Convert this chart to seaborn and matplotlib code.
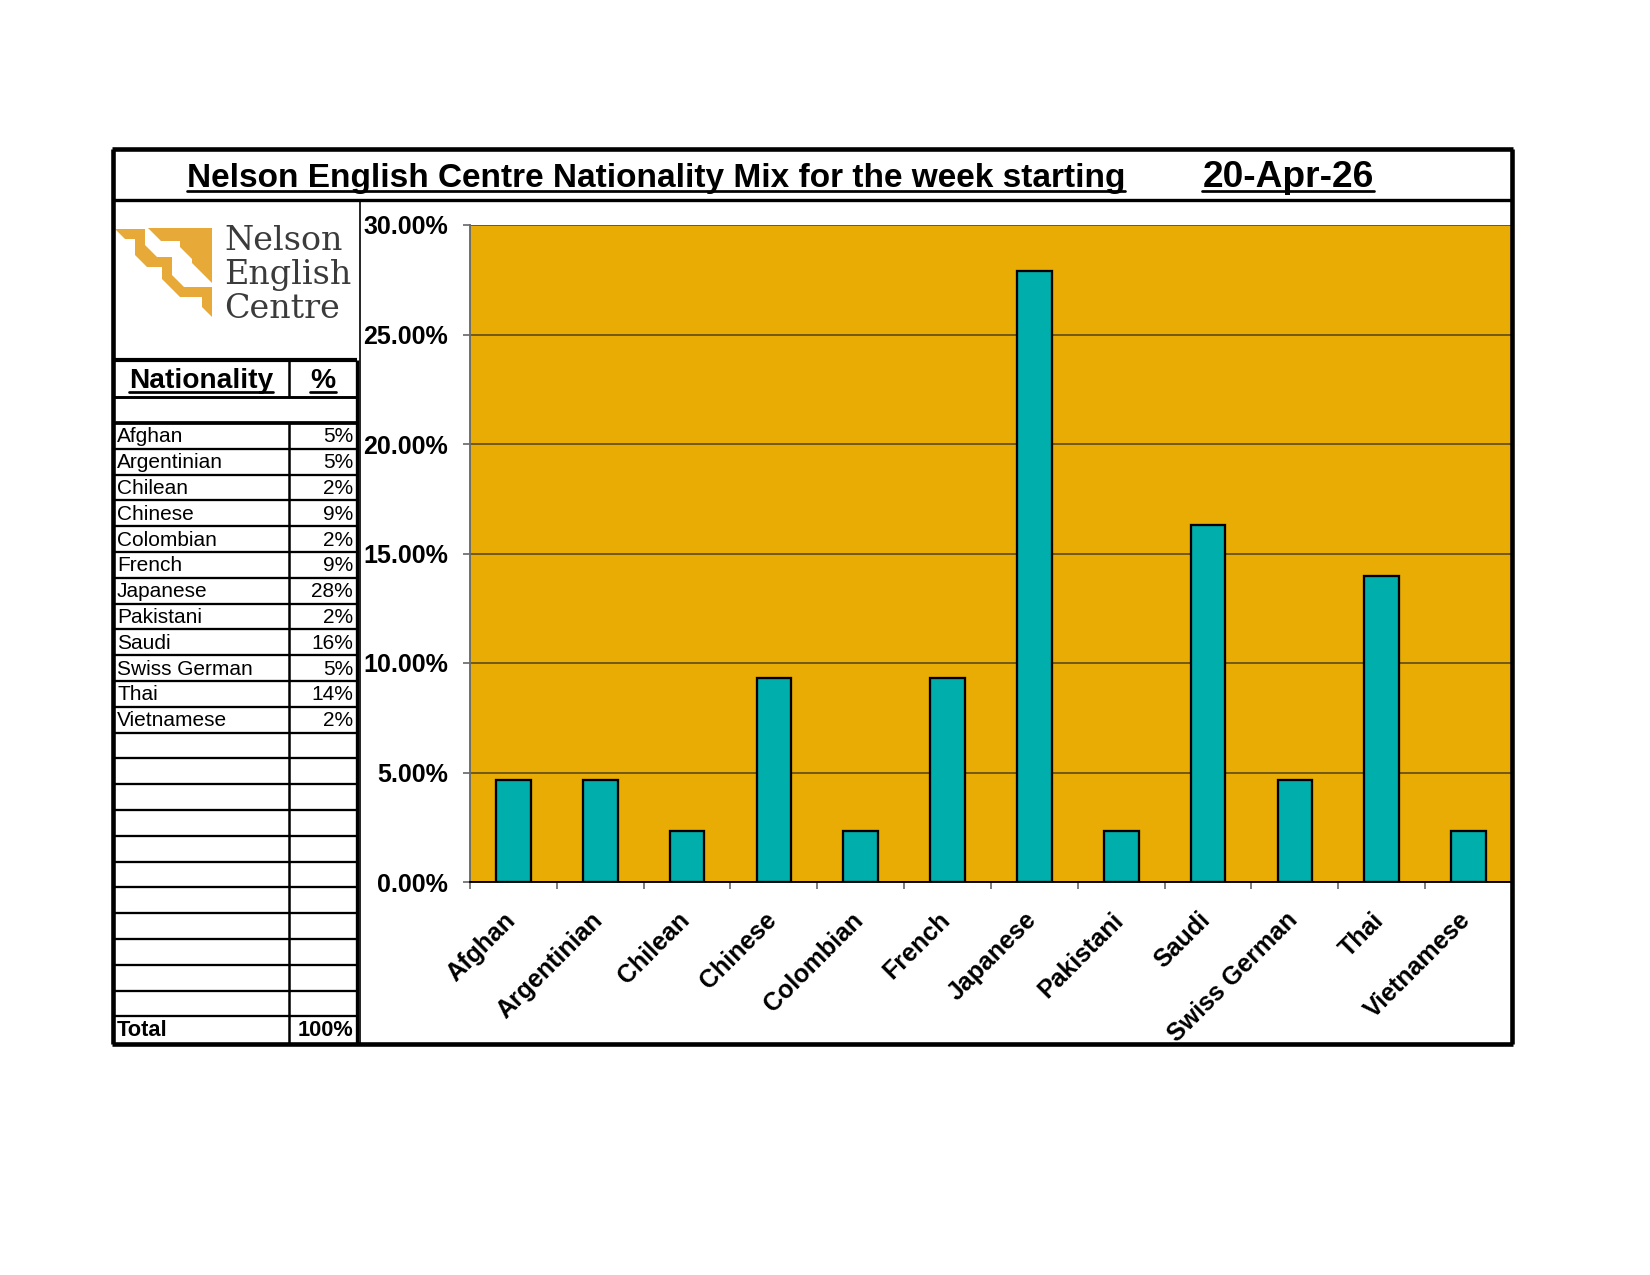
import matplotlib
matplotlib.use("Agg")
import matplotlib.pyplot as plt
import matplotlib.transforms as mtransforms
from matplotlib.patches import Polygon
import pandas as pd
import seaborn as sns

# data
nationalities = ["Afghan", "Argentinian", "Chilean", "Chinese", "Colombian",
                 "French", "Japanese", "Pakistani", "Saudi", "Swiss German",
                 "Thai", "Vietnamese"]
percentages = [4.65, 4.65, 2.33, 9.30, 2.33, 9.30, 27.91, 2.33, 16.28, 4.65,
               13.95, 2.33]
y_ticks = [0, 5, 10, 15, 20, 25, 30]
title_text = "Nelson English Centre Nationality Mix for the week starting"
week_start = "20-Apr-26"
logo_lines = ["Nelson", "English", "Centre"]
empty_rows = 11

ORANGE = "#E8AC05"
TEAL = "#00AFAB"
GRID = "#5e4b1c"
LOGO_GOLD = "#E7AA38"

sns.set_theme(style="white")
plt.rcParams["font.family"] = ["Liberation Sans", "DejaVu Sans"]
plt.rcParams["text.color"] = "black"
plt.rcParams["xtick.color"] = "black"
plt.rcParams["ytick.color"] = "black"

W, H = 1650, 1275
fig = plt.figure(figsize=(11, 8.5), dpi=150)
fig.patch.set_facecolor("white")


def frac(x0, y0, x1, y1):
    # pixel box (top-left origin) -> figure fraction
    return [x0 / W, 1 - y1 / H, (x1 - x0) / W, (y1 - y0) / H]


# bar chart
ax = fig.add_axes(frac(470, 225, 1512, 882))
df = pd.DataFrame({"Nationality": nationalities, "Share": percentages})
sns.barplot(data=df, x="Nationality", y="Share", color=TEAL, saturation=1,
            width=0.4, edgecolor="black", linewidth=1.1, ax=ax, zorder=3)
ax.set_facecolor(ORANGE)
ax.set_xlim(-0.5, len(nationalities) - 0.5)
ax.set_ylim(0, 30)
ax.set_yticks(y_ticks)
ax.set_yticklabels([f"{v:.2f}%" for v in y_ticks], fontsize=12,
                   fontweight="bold", color="black")
ax.yaxis.grid(True, color=GRID, linewidth=0.8, zorder=1)
ax.set_axisbelow(True)
ax.set_xlabel("")
ax.set_ylabel("")
ax.set_xticks(range(len(nationalities)))
ax.set_xticks([i - 0.5 for i in range(len(nationalities) + 1)], minor=True)
ax.tick_params(axis="x", which="major", length=0, pad=10)
ax.tick_params(axis="x", which="minor", length=3.5, width=0.8,
               color="#666666", direction="out", bottom=True)
ax.tick_params(axis="y", length=3.5, width=0.8, color="#666666", pad=7,
               left=True, direction="out")
ax.set_xticklabels(nationalities, rotation=45, ha="right", va="top",
                   rotation_mode="anchor", fontsize=12, fontweight="bold",
                   color="black")
# nudge the slanted labels a little left and down
shift = mtransforms.ScaledTranslation(-10 / 150, -5 / 150, fig.dpi_scale_trans)
for lab in ax.get_xticklabels():
    lab.set_transform(lab.get_transform() + shift)
for s in ["top", "right"]:
    ax.spines[s].set_visible(False)
ax.spines["left"].set_color("#6a6a6a")
ax.spines["left"].set_linewidth(0.9)
ax.spines["bottom"].set_color("black")
ax.spines["bottom"].set_linewidth(0.9)

# overlay in pixel coordinates for the frame, table and titles
ov = fig.add_axes([0, 0, 1, 1])
ov.set_xlim(0, W)
ov.set_ylim(H, 0)
ov.axis("off")
ov.patch.set_alpha(0)


def hl(y, x0, x1, lw=1.0):
    ov.plot([x0, x1], [y, y], color="black", lw=lw, solid_capstyle="butt")


def vl(x, y0, y1, lw=1.0):
    ov.plot([x, x], [y0, y1], color="black", lw=lw, solid_capstyle="butt")


# outer frame
left, right, top, bottom = 113, 1512, 149, 1044
hl(top, left - 1, right + 1, 2.2)
hl(bottom, left - 1, right + 1, 2.2)
vl(left, top, bottom, 2.2)
vl(right, top, bottom, 2.2)
hl(200, left, right, 1.6)

# logo box and table lines
vl(360, 200, bottom, 0.8)
hl(360, left, 357, 2.0)
hl(397, left, 357, 1.4)
hl(423, left, 357, 1.8)
vl(357, 360, bottom, 1.6)
vl(289, 360, 397, 1.2)
vl(289, 423, bottom, 1.2)

row_h = 25.8
n_rows = len(nationalities) + empty_rows
for k in range(1, n_rows + 1):
    hl(423 + k * row_h, left, 357, 1.1)

for k, (name, val) in enumerate(zip(nationalities, percentages)):
    yc = 423 + (k + 0.5) * row_h
    ov.text(117, yc + 1, name, fontsize=10, ha="left", va="center")
    ov.text(353, yc + 1, f"{round(val)}%", fontsize=10, ha="right",
            va="center")

yc = 423 + (n_rows + 0.5) * row_h
ov.text(117, yc + 1, "Total", fontsize=10.5, fontweight="bold", ha="left",
        va="center")
ov.text(353, yc + 1, f"{round(sum(percentages))}%", fontsize=10.5,
        fontweight="bold", ha="right", va="center")

# titles (underlined)
underlined = []
underlined.append(ov.text(656, 187, title_text, fontsize=16,
                          fontweight="bold", ha="center", va="baseline"))
underlined.append(ov.text(1288, 187, week_start, fontsize=17.8,
                          fontweight="bold", ha="center", va="baseline"))
underlined.append(ov.text(201, 388, "Nationality", fontsize=13.5,
                          fontweight="bold", ha="center", va="baseline"))
underlined.append(ov.text(323, 388, "%", fontsize=13.5, fontweight="bold",
                          ha="center", va="baseline"))

renderer = fig.canvas.get_renderer()
for t in underlined:
    bb = t.get_window_extent(renderer)
    yb = t.get_position()[1] + 4
    ov.plot([bb.x0, bb.x1], [yb, yb], color="black", lw=1.3)

# logo: two stepped gold bands (pixel coords)
band_left = [(115, 229), (145, 229), (145, 245), (157, 257), (172, 257),
             (172, 275), (184, 287), (212, 287), (212, 317), (202, 307),
             (202, 297), (180, 297), (162, 279), (162, 267), (147, 267),
             (135, 255), (135, 239), (125, 239)]
band_right = [(148, 228), (212, 228), (212, 283), (192, 263), (192, 259),
              (180, 247), (180, 241), (161, 241)]
for pts in (band_left, band_right):
    ov.add_patch(Polygon(pts, closed=True, facecolor=LOGO_GOLD,
                         edgecolor="none"))

for i, word in enumerate(logo_lines):
    ov.text(224, 241 + i * 34, word, fontsize=16, family="DejaVu Serif",
            color="#3b3b3b", ha="left", va="center")

fig.savefig("out.png", dpi=150)
